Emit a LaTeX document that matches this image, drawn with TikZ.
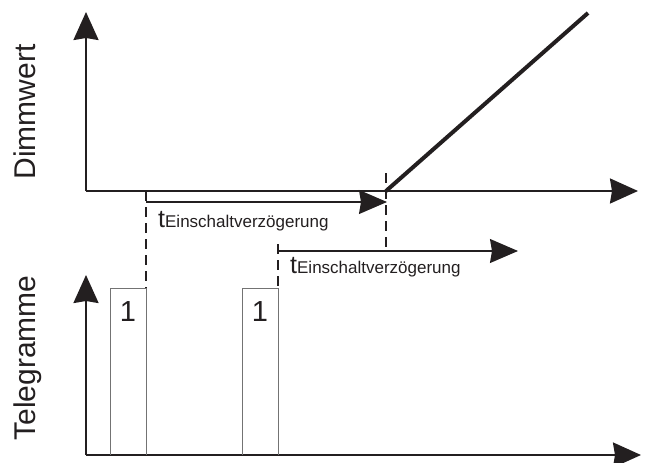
\documentclass[tikz,border=0pt]{standalone}
\usepackage{fontspec}
\setmainfont{Liberation Sans}
\usetikzlibrary{arrows.meta}
\definecolor{ink}{HTML}{231F20}
\begin{document}
\begin{tikzpicture}[x=1pt,y=-1pt,
  axis/.style={line width=2.2pt, draw=ink, -{Stealth[length=28pt,width=25pt,inset=2pt]}},
  tarrow/.style={line width=1.3pt, draw=ink, -{Stealth[length=28pt,width=24pt,inset=2pt]}},
  dline/.style={line width=1.8pt, draw=ink, dash pattern=on 10pt off 6pt},
  tbox/.style={line width=1pt, draw=black!55},
  ramp/.style={line width=4pt, draw=ink},
  ylab/.style={rotate=90, anchor=base, inner sep=0pt, font=\fontsize{30}{30}\selectfont, text=ink},
  one/.style={inner sep=0pt, font=\fontsize{29}{29}\selectfont, text=ink},
  tlab/.style={anchor=base west, inner sep=0pt, text=ink}
]
\useasboundingbox (0,0) rectangle (645,463);

% axes, top diagram
\coordinate (o1) at (86,191);
\coordinate (y1) at (86,12);
\coordinate (x1) at (638,191);
\draw[axis] (o1) -- (y1);
\draw[axis] (o1) -- (x1);

% axes, bottom diagram
\coordinate (o2) at (86,455);
\coordinate (y2) at (86,275);
\coordinate (x2) at (641,455);
\draw[axis] (o2) -- (y2);
\draw[axis] (o2) -- (x2);

% telegram boxes
\coordinate (b1l) at (110,455);
\coordinate (b1t) at (146,288);
\coordinate (b2l) at (242,455);
\coordinate (b2t) at (278,288);
\draw[tbox] (b1l) |- (b1t) -- (146,455);
\draw[tbox] (b2l) |- (b2t) -- (278,455);
\node[one] (n1) at (128,312) {1};
\node[one] (n2) at (260,312) {1};

% dashed markers
\coordinate (d1a) at (146,191);
\coordinate (d2a) at (278,244);
\coordinate (d3a) at (386,173);
\coordinate (d3b) at (386,251);
\draw[dline] (d1a) -- (b1t);
\draw[dline] (d2a) -- (b2t);
\draw[dline] (d3a) -- (d3b);

% delay arrows
\coordinate (s1) at (146,202);
\coordinate (e1) at (387,202);
\coordinate (s2) at (278,251);
\coordinate (e2) at (518,251);
\draw[tarrow] (s1) -- (e1);
\draw[tarrow] (s2) -- (e2);

% ramp
\coordinate (r0) at (386,191);
\coordinate (r1) at (588,13);
\draw[ramp] (r0) -- (r1);

% labels
\node[tlab] (t1) at (158,227) {\fontsize{25}{25}\selectfont t\fontsize{17}{17}\selectfont Einschaltverzögerung};
\node[tlab] (t2) at (290,273) {\fontsize{25}{25}\selectfont t\fontsize{17}{17}\selectfont Einschaltverzögerung};

\node[ylab] (yl1) at (35,112) {Dimmwert};
\node[ylab] (yl2) at (35,358) {Telegramme};
\end{tikzpicture}
\end{document}
